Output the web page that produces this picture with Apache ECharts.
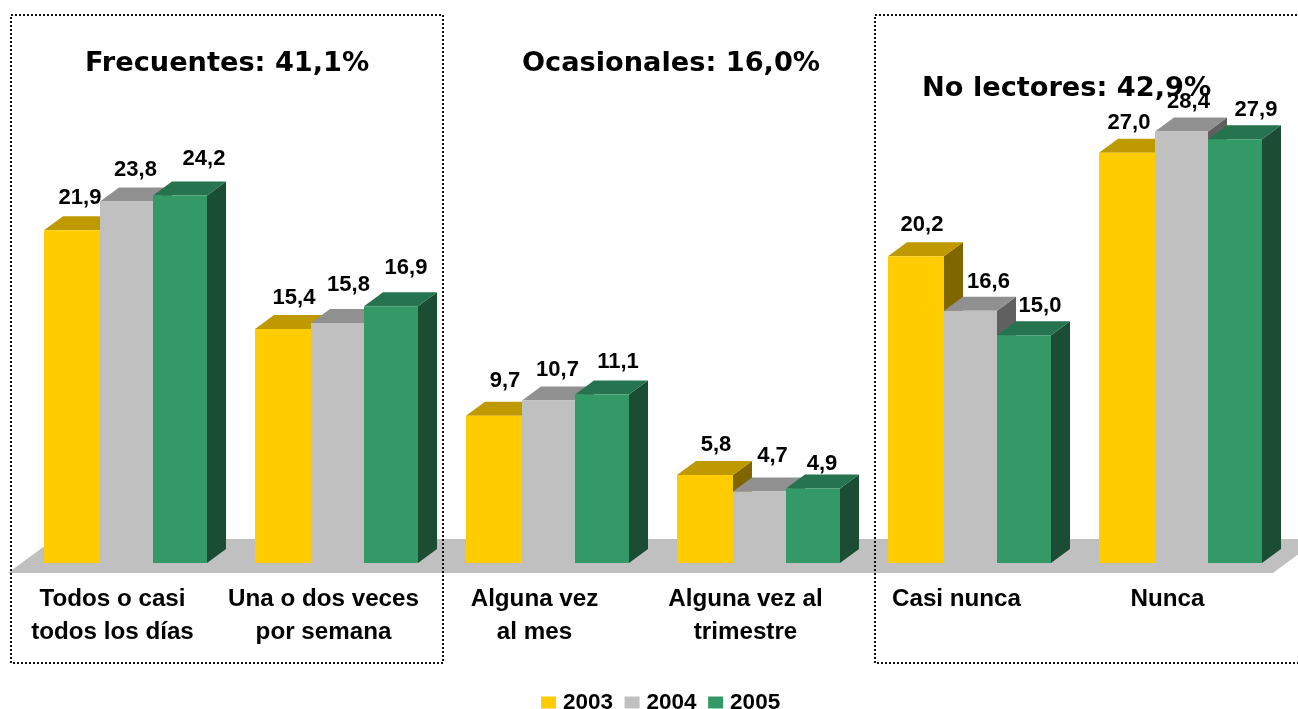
<!DOCTYPE html>
<html><head><meta charset="utf-8">
<style>html,body{margin:0;padding:0;background:#fff;overflow:hidden}#c{width:1298px;height:709px}</style>
<script src="https://cdn.jsdelivr.net/npm/echarts@6/dist/echarts.min.js"></script>
</head><body><div id="c"></div>
<script>
var categories = ['Todos o casi\ntodos los días','Una o dos veces\npor semana','Alguna vez\nal mes','Alguna vez al\ntrimestre','Casi nunca\n ','Nunca\n '];
var years = ['2003','2004','2005'];
var values2003 = [21.9,15.4,9.7,5.8,20.2,27.0];
var values2004 = [23.8,15.8,10.7,4.7,16.6,28.4];
var values2005 = [24.2,16.9,11.1,4.9,15.0,27.9];
var seriesValues = [values2003,values2004,values2005];

// label nudges relative to each bar's top centre (layout, not data)
var labelDx = [[8,11,11,11,6,2],[9,11,9,13,18,7],[24,15,16,9,16,21]];
var labelDy = [[-32,-31,-35,-30,-31,-30],[-32,-38,-31,-36,-29,-30],[-36,-38,-32,-25,-29,-29]];
var barEdges = [0,56,109,163];

var faceColors = ['#FFCC00','#C0C0C0','#339966'];
var topColors  = ['#BF9900','#909090','#267350'];
var sideColors = ['#806600','#606060','#1A4D33'];
var DEPTH_X = 19, DEPTH_Y = 14, GROUP_WIDTH = 163;

function bar3d(s){
  return function(params, api){
    var i = api.value(0), v = api.value(1);
    var top = api.coord([i, v]), base = api.coord([i, 0]);
    var x0 = top[0] - GROUP_WIDTH/2 + barEdges[s], x1 = top[0] - GROUP_WIDTH/2 + barEdges[s+1];
    var yt = top[1], yb = base[1];
    var poly = function(pts, c){ return {type:'polygon', shape:{points:pts}, style:{fill:c, stroke:null}}; };
    return {type:'group', children:[
      poly([[x1,yt],[x1+DEPTH_X,yt-DEPTH_Y],[x1+DEPTH_X,yb-DEPTH_Y],[x1,yb]], sideColors[s]),
      poly([[x0,yt],[x1,yt],[x1+DEPTH_X,yt-DEPTH_Y],[x0+DEPTH_X,yt-DEPTH_Y]], topColors[s]),
      poly([[x0,yt],[x1,yt],[x1,yb],[x0,yb]], faceColors[s]),
      {type:'text', z2:100, style:{
        text: v.toFixed(1).replace('.',','),
        x:(x0+x1)/2 + labelDx[s][params.dataIndex], y: yt + labelDy[s][params.dataIndex],
        align:'center', verticalAlign:'middle',
        font:'bold 22px "Liberation Sans", Arial, sans-serif', fill:'#000'}}
    ]};
  };
}
function floor(params, api){
  var r = params.coordSys, b = api.coord([0,0])[1];
  var l = r.x - 12, R = r.x + r.width - 13;
  return {type:'polygon', shape:{points:[[l,b+10],[R,b+10],[R+46,b-24],[l+46,b-24]]},
    style:{fill:'#C0C0C0', stroke:null}};
}
var series = [{type:'custom', name:'floor', silent:true, z:1, renderItem:floor, data:[[0,0]], encode:{x:0,y:1}}];
years.forEach(function(y,s){
  series.push({type:'custom', name:y, z:2+s, renderItem:bar3d(s), itemStyle:{color:faceColors[s]},
    data:seriesValues[s].map(function(v,i){return [i,v];}), encode:{x:0,y:1}});
});
function box(x,y,w,h){
  return {type:'rect', z:50, shape:{x:x,y:y,width:w,height:h},
    style:{fill:null, stroke:'#111', lineWidth:2, lineDash:[2,2]}, silent:true};
}
var titleStyle = {fontFamily:'"DejaVu Sans", Verdana, sans-serif', fontWeight:'bold', fontSize:27.2, color:'#000'};
var chart = echarts.init(document.getElementById('c'), null, {renderer:'canvas'});
chart.setOption({
  animation:false, backgroundColor:'#fff',
  title:[
    {text:'Frecuentes: 41,1%', left:85, top:50, padding:0, textStyle:titleStyle},
    {text:'Ocasionales: 16,0%', left:522, top:50, padding:0, textStyle:titleStyle},
    {text:'No lectores: 42,9%', left:922, top:75, padding:0, textStyle:titleStyle}
  ],
  legend:{data:years, left:541, top:691, itemWidth:15, itemHeight:12, itemGap:11.5, padding:0, selectedMode:false, icon:'rect',
    textStyle:{fontFamily:'"Liberation Sans", Arial, sans-serif', fontWeight:'bold', fontSize:22.5, color:'#000', padding:[0,0,5,2]}},
  grid:{left:20, top:107.3, width:1266, height:455.7},
  xAxis:{type:'category', data:categories, axisLine:{show:false}, axisTick:{show:false}, splitLine:{show:false},
    axisLabel:{interval:0, margin:20, lineHeight:33, padding:[0,26,0,0], color:'#000',
      fontFamily:'"Liberation Sans", Arial, sans-serif', fontWeight:'bold', fontSize:24.2}},
  yAxis:{type:'value', min:0, max:30, show:false},
  graphic:[box(11,15,432,648), box(875,15,440,648)],
  series:series
});
</script></body></html>
